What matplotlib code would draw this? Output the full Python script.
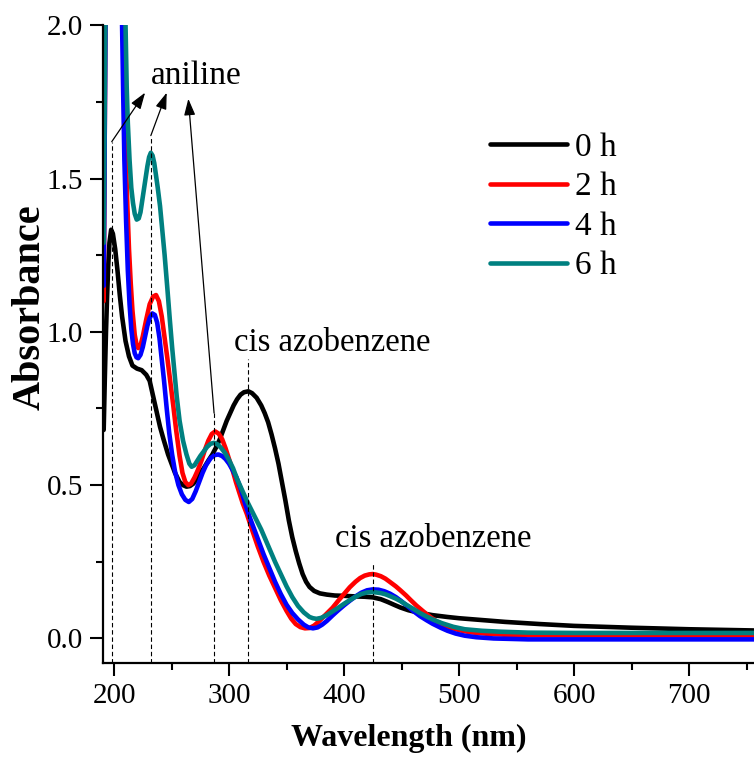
import numpy as np
import matplotlib
matplotlib.use("Agg")
import matplotlib.pyplot as plt

# ===== Data =====
labels = ["0 h", "2 h", "4 h", "6 h"]
colors = ["#000000", "#ff0000", "#0000ff", "#008080"]

wl_0h = [191, 192, 193, 194, 195, 196, 197.5, 199, 201, 203, 205, 207, 210, 213, 216, 220,
         224, 228, 231, 234, 237, 240, 243, 247, 250, 253, 257, 260, 263, 266, 269, 272, 275,
         278, 282, 285.5, 289, 292, 295, 298, 301, 304, 307, 310, 313, 316.8, 320, 324, 328,
         331, 334, 337, 340, 343, 346, 349, 352, 355, 358, 361, 364, 367, 370, 374, 379, 385,
         392, 400, 410, 418, 425, 432, 438, 444, 449, 456, 465, 477, 490, 500, 520, 540, 570,
         600, 650, 700, 757]
a_0h = [0.68, 0.85, 1.00, 1.12, 1.22, 1.29, 1.333, 1.32, 1.27, 1.20, 1.12, 1.05, 0.97, 0.92,
        0.89, 0.88, 0.875, 0.86, 0.84, 0.79, 0.74, 0.69, 0.65, 0.60, 0.57, 0.54, 0.51, 0.50,
        0.495, 0.497, 0.505, 0.52, 0.54, 0.555, 0.58, 0.60, 0.625, 0.65, 0.68, 0.71, 0.735,
        0.76, 0.78, 0.795, 0.803, 0.806, 0.80, 0.785, 0.76, 0.735, 0.705, 0.665, 0.62, 0.57,
        0.51, 0.45, 0.385, 0.33, 0.285, 0.245, 0.21, 0.185, 0.168, 0.155, 0.147, 0.143, 0.14,
        0.139, 0.137, 0.136, 0.134, 0.128, 0.119, 0.109, 0.101, 0.092, 0.084, 0.076, 0.07,
        0.066, 0.06, 0.054, 0.047, 0.041, 0.035, 0.03, 0.026]

wl_2h = [191, 192, 193, 206, 207, 208, 209, 210, 211.5, 213, 214.5, 216, 218, 219.5, 221, 223,
         225, 228, 231, 234, 236.5, 239, 241.5, 244, 246.5, 249, 251.5, 254, 257, 259.5, 262,
         264.6, 267, 270, 273, 276, 279, 282, 285, 288, 291, 294, 297, 300, 303, 306, 309, 312,
         315.4, 320, 325, 330, 335, 340, 345, 350, 354, 358, 362, 366, 370, 374, 378, 382, 386,
         390, 395, 400, 405, 410, 414, 418, 422, 425, 428, 432, 436, 440, 445, 449, 454, 458,
         463, 469, 475, 480, 486, 492, 500, 510, 525, 540, 600, 757]
a_2h = [1.10, 1.70, 2.30, 2.30, 2.15, 2.00, 1.80, 1.60, 1.42, 1.27, 1.16, 1.07, 0.99, 0.96,
        0.947, 0.955, 0.985, 1.04, 1.09, 1.115, 1.12, 1.10, 1.05, 0.98, 0.91, 0.835, 0.76, 0.68,
        0.595, 0.54, 0.51, 0.50, 0.505, 0.525, 0.55, 0.58, 0.615, 0.645, 0.667, 0.675, 0.668,
        0.65, 0.62, 0.585, 0.55, 0.51, 0.475, 0.44, 0.407, 0.355, 0.30, 0.25, 0.205, 0.165,
        0.125, 0.09, 0.065, 0.047, 0.037, 0.033, 0.034, 0.042, 0.055, 0.07, 0.085, 0.10, 0.123,
        0.145, 0.167, 0.185, 0.197, 0.205, 0.209, 0.21, 0.208, 0.203, 0.195, 0.184, 0.17, 0.157,
        0.14, 0.125, 0.107, 0.088, 0.07, 0.057, 0.045, 0.036, 0.027, 0.02, 0.015, 0.012, 0.01,
        0.01]

wl_4h = [191, 192, 193, 205, 206, 207, 208, 209, 210.5, 212, 213.5, 215, 216.5, 218, 219.5,
         221, 223, 225, 227, 229, 231, 233.3, 235.5, 237.5, 239.5, 241.5, 243.5, 245.8, 248,
         250.5, 253, 256, 259, 262, 265, 268, 271, 274, 277, 280, 284, 287.5, 290.7, 294, 297,
         300, 303, 306.5, 310, 314, 318, 322, 326, 330, 335, 340, 345, 350, 355, 360, 365, 369,
         373, 377, 381, 385, 390, 395, 400, 405, 410, 415, 420, 425, 430, 435, 440, 445, 449,
         455, 460, 466, 472, 477, 484, 490, 497, 505, 515, 530, 560, 757]
a_4h = [1.15, 1.70, 2.30, 2.30, 2.15, 2.00, 1.77, 1.56, 1.36, 1.20, 1.09, 1.01, 0.96, 0.93,
        0.917, 0.914, 0.925, 0.95, 0.985, 1.02, 1.045, 1.06, 1.055, 1.03, 0.98, 0.91, 0.84,
        0.75, 0.67, 0.60, 0.545, 0.50, 0.47, 0.452, 0.445, 0.455, 0.48, 0.51, 0.54, 0.565,
        0.588, 0.598, 0.60, 0.595, 0.585, 0.57, 0.55, 0.525, 0.49, 0.44, 0.395, 0.355, 0.315,
        0.275, 0.23, 0.185, 0.145, 0.11, 0.083, 0.062, 0.045, 0.036, 0.033, 0.036, 0.045, 0.057,
        0.075, 0.092, 0.108, 0.123, 0.137, 0.149, 0.157, 0.16, 0.159, 0.154, 0.146, 0.135,
        0.124, 0.106, 0.09, 0.073, 0.059, 0.048, 0.035, 0.025, 0.016, 0.009, 0.004, 0.0,
        -0.003, -0.003]

wl_6h = [191, 192, 193, 208, 209, 210, 211, 212, 213.5, 215, 216.5, 218, 219.7, 221.5, 223,
         225, 227, 229, 230.5, 232, 233.5, 235, 236.5, 238, 240, 242, 244, 246.4, 248.5, 250.5,
         252.5, 254.5, 257, 260, 263, 265.5, 267.5, 270, 272.5, 275, 278, 281, 284, 287, 290,
         293, 296.5, 300, 303.5, 307, 310, 313, 316, 320, 324, 328, 332, 336, 340, 345, 350,
         355, 360, 365, 370, 373, 376, 380, 385, 390, 395, 400, 405, 410, 415, 420, 424, 428,
         432, 436, 440, 445, 449, 455, 460, 466, 472, 477, 485, 495, 505, 520, 536, 560, 600,
         757]
a_6h = [1.29, 1.80, 2.30, 2.30, 2.15, 2.00, 1.80, 1.68, 1.56, 1.47, 1.42, 1.385, 1.366, 1.37,
        1.39, 1.44, 1.49, 1.54, 1.57, 1.584, 1.575, 1.55, 1.51, 1.47, 1.41, 1.33, 1.25, 1.14,
        1.04, 0.95, 0.87, 0.79, 0.71, 0.645, 0.60, 0.57, 0.56, 0.565, 0.58, 0.595, 0.61, 0.625,
        0.635, 0.638, 0.633, 0.622, 0.605, 0.582, 0.555, 0.52, 0.495, 0.47, 0.445, 0.415, 0.385,
        0.355, 0.32, 0.285, 0.25, 0.21, 0.17, 0.135, 0.106, 0.085, 0.07, 0.066, 0.064, 0.067,
        0.076, 0.088, 0.10, 0.113, 0.125, 0.136, 0.145, 0.15, 0.151, 0.15, 0.148, 0.144, 0.138,
        0.13, 0.122, 0.108, 0.097, 0.083, 0.071, 0.062, 0.05, 0.038, 0.03, 0.025, 0.022, 0.019,
        0.018, 0.018]

# marker lines: (wavelength, top of dashed line)
mark_wl = [198, 232, 287, 316.5, 425]
mark_top = [1.62, 1.64, 0.735, 0.91, 0.25]

plt.rcParams['font.family'] = ['Liberation Serif', 'DejaVu Serif']

fig = plt.figure(figsize=(7.54, 7.57), dpi=100)
ax = fig.add_axes([0.1366, 0.1242, 0.8634, 0.8425])

series = [(wl_0h, a_0h), (wl_2h, a_2h), (wl_4h, a_4h), (wl_6h, a_6h)]
for (x, y), c, lab in zip(series, colors, labels):
    ax.plot(x, y, color=c, lw=3.3, label=lab, solid_capstyle='round', solid_joinstyle='round')

ymin = -0.08
for w, t in zip(mark_wl, mark_top):
    ax.plot([w, w], [ymin, t], color='k', lw=0.8, ls=(0, (4, 2.5)))

# arrows to "aniline"
arrow_kw = dict(arrowstyle='-|>,head_length=0.5,head_width=0.17', color='k', lw=0.9,
                shrinkA=0, shrinkB=0, mutation_scale=20)
ax.annotate("", xy=(227, 1.78), xytext=(198, 1.62), arrowprops=arrow_kw)
ax.annotate("", xy=(245.8, 1.78), xytext=(232, 1.64), arrowprops=arrow_kw)
ax.annotate("", xy=(264.6, 1.76), xytext=(287, 0.735), arrowprops=arrow_kw)

ax.text(271.3, 1.807, "aniline", fontsize=24, ha='center', va='baseline')
ax.text(390, 0.936, "cis azobenzene", fontsize=23.5, ha='center', va='baseline')
ax.text(477.5, 0.298, "cis azobenzene", fontsize=23.5, ha='center', va='baseline')

ax.set_xlim(190.4, 756.5)
ax.set_ylim(ymin, 2.0)
ax.set_xticks([200, 300, 400, 500, 600, 700])
ax.set_xticks(np.arange(250, 760, 100), minor=True)
ax.set_yticks([0.0, 0.5, 1.0, 1.5, 2.0])
ax.set_yticks([0.25, 0.75, 1.25, 1.75], minor=True)
ax.set_yticklabels(["0.0", "0.5", "1.0", "1.5", "2.0"])

for s in ['top', 'right']:
    ax.spines[s].set_visible(False)
for s in ['left', 'bottom']:
    ax.spines[s].set_linewidth(1.6)

ax.tick_params(which='major', direction='out', length=9.5, width=1.5, labelsize=21)
ax.tick_params(which='minor', direction='out', length=5, width=1.5)
ax.tick_params(axis='x', which='major', pad=5)
ax.tick_params(axis='y', which='major', pad=5)

ax.set_xlabel("Wavelength (nm)", fontsize=23, fontweight='bold')
ax.xaxis.set_label_coords(0.469, -0.095)
ax.set_ylabel("Absorbance", fontsize=29, fontweight='bold')
ax.yaxis.set_label_coords(-0.084, 0.558)

ax.legend(loc='upper left', bbox_to_anchor=(0.595, 0.832), frameon=False, fontsize=24,
          handlelength=2.3, handletextpad=0.25, labelspacing=0.27, borderpad=0,
          borderaxespad=0)

fig.savefig("out.png", dpi=100)
